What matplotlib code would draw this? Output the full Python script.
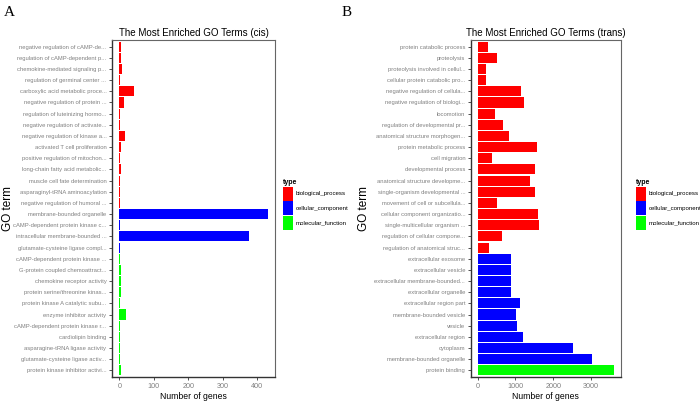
import numpy as np
import matplotlib
matplotlib.use('Agg')
import matplotlib.pyplot as plt
from matplotlib.patches import Patch

plt.rcParams['font.family'] = ['Liberation Sans', 'DejaVu Sans']

# panel A (cis)
terms_cis = [
    'negative regulation of cAMP-de...', 'regulation of cAMP-dependent p...',
    'chemokine-mediated signaling p...', 'regulation of germinal center ...',
    'carboxylic acid metabolic proce...', 'negative regulation of protein ...',
    'regulation of luteinizing hormo...', 'negative regulation of activate...',
    'negative regulation of kinase a...', 'activated T cell proliferation',
    'positive regulation of mitochon...', 'long-chain fatty acid metabolic...',
    'muscle cell fate determination', 'asparaginyl-tRNA aminoacylation',
    'negative regulation of humoral ...',
    'membrane-bounded organelle', 'cAMP-dependent protein kinase c...',
    'intracellular membrane-bounded ...', 'glutamate-cysteine ligase compl...',
    'cAMP-dependent protein kinase ...', 'G-protein coupled chemoattract...',
    'chemokine receptor activity', 'protein serine/threonine kinas...',
    'protein kinase A catalytic subu...', 'enzyme inhibitor activity',
    'cAMP-dependent protein kinase r...', 'cardiolipin binding',
    'asparagine-tRNA ligase activity', 'glutamate-cysteine ligase activ...',
    'protein kinase inhibitor activi...',
]
genes_cis = [5, 4, 7, 1, 43, 12, 1, 2, 17, 4, 1, 6, 1, 1, 1,
             430, 3, 375, 1,
             2, 4, 4, 4, 3, 19, 1, 1, 1, 1, 6]
type_cis = ['biological_process'] * 15 + ['cellular_component'] * 4 + ['molecular_function'] * 11

# panel B (trans)
terms_trans = [
    'protein catabolic process', 'proteolysis', 'proteolysis involved in cellul...',
    'cellular protein catabolic pro...', 'negative regulation of cellula...',
    'negative regulation of biologi...', 'locomotion',
    'regulation of developmental pr...', 'anatomical structure morphogen...',
    'protein metabolic process', 'cell migration', 'developmental process',
    'anatomical structure developme...', 'single-organism developmental ...',
    'movement of cell or subcellula...', 'cellular component organizatio...',
    'single-multicellular organism ...', 'regulation of cellular compone...',
    'regulation of anatomical struc...',
    'extracellular exosome', 'extracellular vesicle',
    'extracellular membrane-bounded...', 'extracellular organelle',
    'extracellular region part', 'membrane-bounded vesicle', 'vesicle',
    'extracellular region', 'cytoplasm', 'membrane-bounded organelle',
    'protein binding',
]
genes_trans = [285, 526, 214, 232, 1150, 1239, 463, 660, 820, 1569, 383, 1524,
               1390, 1506, 508, 1595, 1613, 642, 294,
               882, 882, 882, 882, 1114, 1007, 1043, 1203, 2522, 3021,
               3600]
type_trans = ['biological_process'] * 19 + ['cellular_component'] * 10 + ['molecular_function']

colors = {'biological_process': '#FF0000', 'cellular_component': '#0000FF',
          'molecular_function': '#00FF00'}
ticks_cis = [0, 100, 200, 300, 400]
ticks_trans = [0, 1000, 2000, 3000]

W, H = 700, 405
fig = plt.figure(figsize=(7, 4.05), dpi=100)


def draw(ax, terms, genes, types, ticks, title):
    n = len(terms)
    y = np.arange(n)[::-1]
    ax.barh(y, genes, height=0.9, color=[colors[t] for t in types],
            edgecolor='none')
    vmax = max(genes)
    ax.set_xlim(-0.05 * vmax, 1.05 * vmax)
    ax.set_ylim(-0.6, n - 0.4)
    ax.set_yticks(y)
    ax.set_yticklabels(terms, fontsize=4.2, color='#808080')
    ax.set_xticks(ticks)
    ax.set_xticklabels([str(t) for t in ticks], fontsize=5.2, color='#808080')
    ax.tick_params(axis='both', length=2.5, width=0.6, color='#333333', pad=1.5)
    for s in ['top', 'right']:
        ax.spines[s].set_color('#666666')
        ax.spines[s].set_linewidth(0.8)
    for s in ['left', 'bottom']:
        ax.spines[s].set_color('#333333')
        ax.spines[s].set_linewidth(1.0)
    ax.set_title(title, fontsize=7, pad=3)
    ax.set_xlabel('Number of genes', fontsize=6.2, labelpad=2)
    ax.set_ylabel('GO term', fontsize=8.5)


ax1 = fig.add_axes([112 / W, 1 - 377 / H, 163 / W, 337 / H])
draw(ax1, terms_cis, genes_cis, type_cis, ticks_cis, 'The Most Enriched GO Terms (cis)')
ax1.yaxis.set_label_coords(-0.6, 0.5)

ax2 = fig.add_axes([470.7 / W, 1 - 377 / H, 150 / W, 337 / H])
draw(ax2, terms_trans, genes_trans, type_trans, ticks_trans, 'The Most Enriched GO Terms (trans)')
ax2.yaxis.set_label_coords(-0.67, 0.5)

handles = [Patch(facecolor=c, edgecolor='none', label=k) for k, c in colors.items()]
for x0 in [282, 635]:
    leg = fig.legend(handles=handles, title='type', loc='upper left',
                     bbox_to_anchor=(x0 / W, 1 - 178 / H), frameon=False,
                     fontsize=4.4, title_fontsize=5, handlelength=1.65,
                     handleheight=3.2, labelspacing=0.05, handletextpad=0.35,
                     borderpad=0.2, borderaxespad=0)
    leg._legend_box.align = 'left'
    leg.get_title().set_fontweight('bold')

fig.text(4 / W, 1 - 16 / H, 'A', fontsize=11, family='Liberation Serif')
fig.text(342 / W, 1 - 16 / H, 'B', fontsize=11, family='Liberation Serif')

fig.savefig('out.png', dpi=100)
